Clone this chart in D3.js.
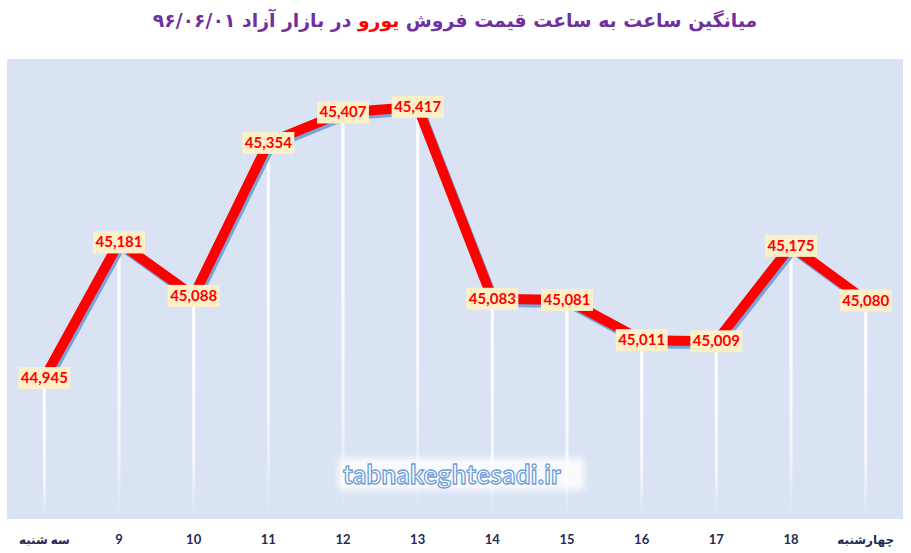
<!DOCTYPE html>
<html>
<head>
<meta charset="utf-8">
<script src="https://cdn.jsdelivr.net/npm/d3@7"></script>
<style>
  body { margin: 0; background: #fff; }
  svg { display: block; }
</style>
</head>
<body>
<div id="chart"></div>
<script>
const days = ['سه شنبه', '9', '10', '11', '12', '13', '14', '15', '16', '17', '18', 'چهارشنبه'];
const prices = [44945, 45181, 45088, 45354, 45407, 45417, 45083, 45081, 45011, 45009, 45175, 45080];
const yDomain = [44700, 45500];

const width = 911, height = 553;
const plot = { left: 7, right: 903, top: 59, bottom: 519 };

const data = days.map((d, i) => ({ day: d, price: prices[i] }));

let svg = d3.select('#chart')
  .append('svg')
  .attr('width', width)
  .attr('height', height);

let defs = svg.append('defs');
let grad = defs.append('linearGradient')
  .attr('id', 'drop')
  .attr('x1', 0).attr('y1', 0).attr('x2', 0).attr('y2', 1);
grad.append('stop').attr('offset', '0%').attr('stop-color', '#fff').attr('stop-opacity', 1);
grad.append('stop').attr('offset', '70%').attr('stop-color', '#fff').attr('stop-opacity', 0.75);
grad.append('stop').attr('offset', '100%').attr('stop-color', '#fff').attr('stop-opacity', 0);

let glow = defs.append('filter').attr('id', 'glow')
  .attr('x', '-10%').attr('y', '-40%').attr('width', '120%').attr('height', '180%');
glow.append('feGaussianBlur').attr('stdDeviation', 3);

let x = d3.scaleBand()
  .domain(days)
  .range([plot.left, plot.right]);

let y = d3.scaleLinear()
  .domain(yDomain)
  .range([plot.bottom, plot.top]);

// plot background
svg.append('rect')
  .attr('x', plot.left)
  .attr('y', plot.top)
  .attr('width', plot.right - plot.left)
  .attr('height', plot.bottom - plot.top)
  .attr('fill', '#dae3f3');

// white drop lines
svg.append('g').selectAll('rect').data(data)
  .enter()
  .append('rect')
  .attr('x', d => x(d.day) + x.bandwidth() / 2 - 1.5)
  .attr('y', d => y(d.price))
  .attr('width', 3)
  .attr('height', d => plot.bottom - y(d.price))
  .attr('fill', 'url(#drop)');

// watermark
let wm = svg.append('g');
wm.append('rect')
  .attr('x', 338).attr('y', 458)
  .attr('width', 246).attr('height', 32)
  .attr('fill', '#fff')
  .attr('opacity', 0.85)
  .attr('filter', 'url(#glow)');
wm.append('text')
  .attr('x', 452).attr('y', 484)
  .attr('text-anchor', 'middle')
  .style('font-family', 'Lato, "Open Sans", sans-serif')
  .style('font-size', '26px')
  .style('font-weight', 'bold')
  .style('letter-spacing', '0.3px')
  .attr('fill', '#fff')
  .attr('stroke', '#6f9ed6')
  .attr('stroke-width', 1.3)
  .text('tabnakeghtesadi.ir');

let line = d3.line()
  .x(d => x(d.day) + x.bandwidth() / 2)
  .y(d => y(d.price));

// shadow then red line
svg.append('path')
  .datum(data)
  .attr('d', line)
  .attr('transform', 'translate(2,3)')
  .attr('fill', 'none')
  .attr('stroke', '#6d9bd8')
  .attr('stroke-width', 10)
  .attr('stroke-linejoin', 'round')
  .attr('opacity', 0.9);

svg.append('path')
  .datum(data)
  .attr('d', line)
  .attr('fill', 'none')
  .attr('stroke', '#ff0000')
  .attr('stroke-width', 10)
  .attr('stroke-linejoin', 'round');

// value labels
let labels = svg.append('g').selectAll('g').data(data)
  .enter()
  .append('g')
  .attr('transform', d => `translate(${x(d.day) + x.bandwidth() / 2}, ${y(d.price)})`);

labels.append('rect')
  .attr('x', -26)
  .attr('y', -11)
  .attr('width', 52)
  .attr('height', 22)
  .attr('fill', '#fdf0c9');

labels.append('text')
  .attr('y', 5)
  .attr('text-anchor', 'middle')
  .style('font-family', 'Lato, "Open Sans", sans-serif')
  .style('font-size', '15px')
  .style('font-weight', 'bold')
  .attr('fill', '#ff0000')
  .text(d => d3.format(',')(d.price));

// x axis labels
svg.append('g').selectAll('text').data(days)
  .enter()
  .append('text')
  .attr('x', d => x(d) + x.bandwidth() / 2)
  .attr('y', 544)
  .attr('text-anchor', 'middle')
  .style('font-family', 'Lato, "DejaVu Sans", sans-serif')
  .style('font-size', d => isNaN(+d) ? '12px' : '13px')
  .style('font-weight', 'bold')
  .attr('fill', '#1f2b52')
  .text(d => d);

// title
let title = svg.append('text')
  .attr('x', 455)
  .attr('y', 27)
  .attr('text-anchor', 'middle')
  .attr('direction', 'rtl')
  .style('font-family', '"DejaVu Sans", sans-serif')
  .style('font-size', '18px')
  .style('font-weight', 'bold')
  .attr('fill', '#7030a0');
title.append('tspan').text('میانگین ساعت به ساعت قیمت فروش ');
title.append('tspan').attr('fill', '#ff0000').text('یورو');
title.append('tspan').text(' در بازار آزاد ۹۶/۰۶/۰۱');

let tw = title.node().getComputedTextLength();
title.style('font-size', (18 * 605 / tw) + 'px');
</script>
</body>
</html>
